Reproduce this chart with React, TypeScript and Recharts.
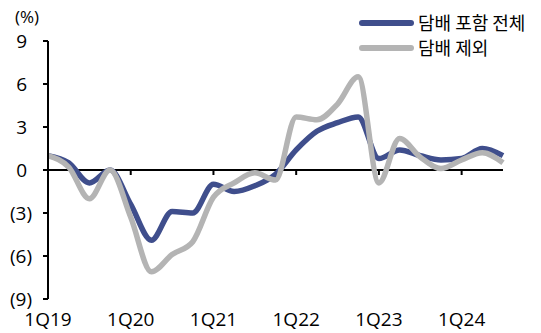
import { LineChart, Line, XAxis, YAxis, ReferenceLine, Legend } from "recharts";

// quarterly series, 1Q19 .. 3Q24 (%)
const quarters = [
  "1Q19", "2Q19", "3Q19", "4Q19",
  "1Q20", "2Q20", "3Q20", "4Q20",
  "1Q21", "2Q21", "3Q21", "4Q21",
  "1Q22", "2Q22", "3Q22", "4Q22",
  "1Q23", "2Q23", "3Q23", "4Q23",
  "1Q24", "2Q24", "3Q24",
];
const totalIncl = [
  1.0, 0.5, -0.9, 0.0,
  -2.4, -4.9, -2.9, -3.0,
  -1.0, -1.5, -1.1, -0.3,
  1.4, 2.7, 3.3, 3.7,
  0.8, 1.4, 1.0, 0.7,
  0.8, 1.5, 1.0,
];
const exTobacco = [
  1.0, 0.2, -2.0, 0.0,
  -3.3, -7.1, -5.9, -5.0,
  -1.9, -0.9, -0.2, -0.7,
  3.7, 3.5, 4.6, 6.5,
  -0.9, 2.2, 0.9, 0.1,
  0.7, 1.2, 0.5,
];
const yTicks = [-9, -6, -3, 0, 3, 6, 9];
const yearMarks = ["1Q20", "1Q21", "1Q22", "1Q23", "1Q24"];

const seriesNames = { total: "담배 포함 전체", ex: "담배 제외" };
const BLUE = "#3F4E8C";
const GRAY = "#B4B4B4";
const NUM_FONT = "'Open Sans', 'Noto Sans', sans-serif";
const KR_FONT = "'Noto Sans CJK KR', sans-serif";

const data = quarters.map((q, i) => ({ q, total: totalIncl[i], ex: exTobacco[i] }));

const YTick = (props: any) => {
  const { x, y, payload } = props;
  const v = payload.value as number;
  const neg = v < 0;
  return (
    <text
      x={x}
      y={y}
      dx={neg ? -9 : -14}
      dy="0.36em"
      textAnchor="end"
      fontFamily={NUM_FONT}
      fontSize={19}
      fill="#000"
    >
      {neg ? `(${-v})` : `${v}`}
    </text>
  );
};

const LegendBox = () => (
  <div style={{ fontFamily: KR_FONT, fontSize: 18, color: "#000" }}>
    {[
      { name: seriesNames.total, color: BLUE },
      { name: seriesNames.ex, color: GRAY },
    ].map((it) => (
      <div key={it.name} style={{ display: "flex", alignItems: "center", height: 25 }}>
        <div
          style={{
            width: 55,
            height: 6,
            borderRadius: 3,
            background: it.color,
            marginRight: 4,
          }}
        />
        <span style={{ lineHeight: "25px" }}>{it.name}</span>
      </div>
    ))}
  </div>
);

export default function App() {
  return (
    <div style={{ position: "absolute", left: 0, top: 0, width: 541, height: 333, background: "#fff" }}>
      <LineChart
        width={541}
        height={333}
        data={data}
        margin={{ top: 41, right: 38, bottom: 0, left: 0 }}
      >
        <XAxis
          dataKey="q"
          interval={3}
          height={34}
          axisLine={false}
          tickLine={false}
          tickSize={0}
          tickMargin={14}
          tick={{ fontFamily: NUM_FONT, fontSize: 19, fill: "#000" }}
        />
        <YAxis
          type="number"
          domain={[-9, 9]}
          ticks={yTicks}
          width={48}
          axisLine={{ stroke: "#000", strokeWidth: 2 }}
          tickLine={{ stroke: "#000", strokeWidth: 2 }}
          tickSize={5}
          tick={<YTick />}
          label={{
            content: (p: any) => (
              <text
                x={p.viewBox.x + 15}
                y={p.viewBox.y - 18}
                fontFamily={NUM_FONT}
                fontSize={17}
                fill="#000"
              >
                (%)
              </text>
            ),
          }}
        />
        <ReferenceLine y={0} stroke="#000" strokeWidth={2} />
        {yearMarks.map((q) => (
          <ReferenceLine
            key={q}
            segment={[
              { x: q, y: 0 },
              { x: q, y: -0.35 },
            ]}
            stroke="#000"
            strokeWidth={2}
          />
        ))}
        <Line
          type="monotone"
          dataKey="total"
          name={seriesNames.total}
          stroke={BLUE}
          strokeWidth={5.5}
          dot={false}
          isAnimationActive={false}
        />
        <Line
          type="monotone"
          dataKey="ex"
          name={seriesNames.ex}
          stroke={GRAY}
          strokeWidth={5.5}
          dot={false}
          isAnimationActive={false}
        />
        <Legend
          layout="horizontal"
          verticalAlign="middle"
          align="center"
          content={<LegendBox />}
          wrapperStyle={{ left: 359, top: 10, width: "auto" }}
        />
      </LineChart>
    </div>
  );
}
